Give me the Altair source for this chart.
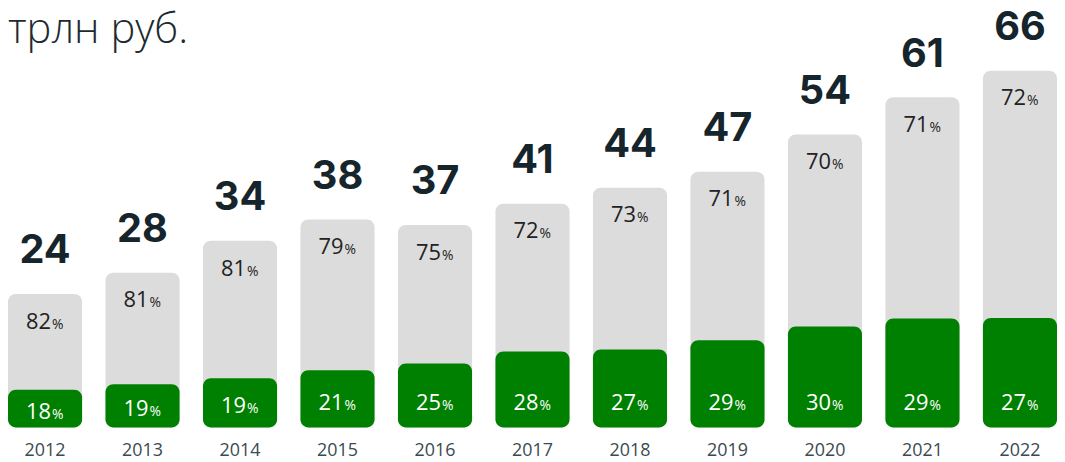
import altair as alt
import pandas as pd

years = ["2012", "2013", "2014", "2015", "2016", "2017", "2018", "2019", "2020", "2021", "2022"]
totals = [24, 28, 34, 38, 37, 41, 44, 47, 54, 61, 66]
green_share = [18, 19, 19, 21, 25, 28, 27, 29, 30, 29, 27]
gray_share = [82, 81, 81, 79, 75, 72, 73, 71, 70, 71, 72]
unit_label = "трлн руб."

df = pd.DataFrame({
    "year": years,
    "total": totals,
    "green_share": green_share,
    "gray_share": gray_share,
})

x = alt.X(
    "year:N", sort=years,
    scale=alt.Scale(paddingInner=0.24, paddingOuter=0),
    axis=alt.Axis(title=None, domain=False, ticks=False, tickSize=0, labelAngle=0,
                  labelFont="Open Sans", labelFontSize=18, labelColor="#3b4a50",
                  labelPadding=28, labelBaseline="alphabetic", grid=False),
)
yscale = alt.Scale(domain=[0, 78.6], nice=False, zero=True)

base = alt.Chart(df).transform_calculate(
    green="datum.total * datum.green_share / 100",
    glab="min(datum.total * datum.green_share / 100 * 0.5 + 1.4, 5.13)",
)

gray = base.mark_bar(color="#dcdcdc", cornerRadius=8, yOffset=-6).encode(
    x=x, y=alt.Y("total:Q", scale=yscale, axis=None), y2=alt.Y2(datum=0)
)
green = base.mark_bar(color="#008000", cornerRadius=8, yOffset=-15).encode(
    x=x, y=alt.Y("green:Q", scale=yscale, axis=None), y2=alt.Y2(datum=0)
)
tot = base.mark_text(font="Inter", fontWeight="bold", fontSize=40, color="#15252b",
                     baseline="alphabetic", dy=-37).encode(
    x=x, y=alt.Y("total:Q", scale=yscale), text="total:Q"
)
gray_num = base.mark_text(font="Open Sans", fontSize=22, color="#222222", align="right",
                          baseline="alphabetic", dx=6, dy=29).encode(
    x=x, y=alt.Y("total:Q", scale=yscale), text="gray_share:Q"
)
gray_sign = base.mark_text(font="Open Sans", fontSize=14, color="#222222", align="left",
                           baseline="alphabetic", dx=7, dy=29).encode(
    x=x, y=alt.Y("total:Q", scale=yscale), text=alt.value("%")
)
green_num = base.mark_text(font="Open Sans", fontSize=22, color="#ffffff", align="right",
                           baseline="alphabetic", dx=6, dy=10).encode(
    x=x, y=alt.Y("glab:Q", scale=yscale), text="green_share:Q"
)
green_sign = base.mark_text(font="Open Sans", fontSize=14, color="#ffffff", align="left",
                            baseline="alphabetic", dx=7, dy=10).encode(
    x=x, y=alt.Y("glab:Q", scale=yscale), text=alt.value("%")
)
title = alt.Chart(pd.DataFrame({"t": [unit_label]})).mark_text(
    align="left", baseline="alphabetic", font="Open Sans", fontWeight=300,
    fontSize=42, color="#1c2b2f"
).encode(x=alt.value(0), y=alt.value(34), text="t:N")

chart = alt.layer(gray, green, tot, gray_num, gray_sign, green_num, green_sign, title).properties(
    width=1057, height=421,
    padding={"left": 0, "top": 0, "right": 0, "bottom": 33},
    autosize=alt.AutoSizeParams(type="none"),
).configure_view(stroke=None)

chart.save("out.html", embed_options={"renderer": "svg", "actions": False})
